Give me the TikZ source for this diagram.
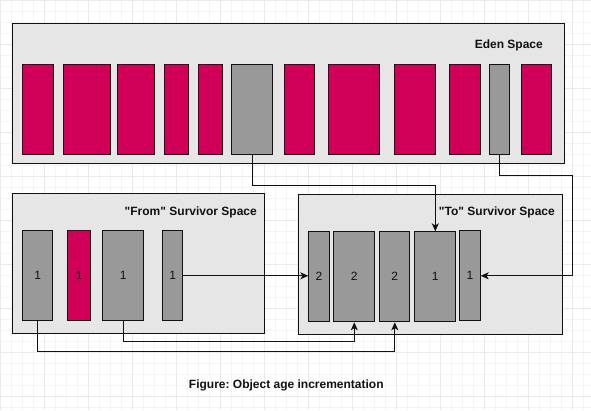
\documentclass[tikz,border=0pt]{standalone}
\usepackage{fontspec}
\setmainfont{Liberation Sans}[Ligatures=TeXOff]
\usetikzlibrary{arrows.meta}
\definecolor{ink}{HTML}{111111}
\definecolor{edenred}{HTML}{D00058}
\definecolor{objgrey}{HTML}{999999}
\definecolor{spacefill}{HTML}{E6E6E6}
\definecolor{gridmin}{HTML}{F4F4F4}
\definecolor{gridmaj}{HTML}{E9E9E9}
\tikzset{
  >={Stealth[length=8pt,width=7pt,inset=2.2pt]},
  space/.style={draw=ink, fill=spacefill, line width=1.1pt, anchor=north west,
    inner sep=0pt, minimum height=140pt},
  obj/.style={draw=ink, line width=1pt, anchor=north west, inner sep=0pt,
    minimum height=90pt, font=\fontsize{12}{14}\selectfont, text=ink},
  live/.style={obj, fill=objgrey},
  dead/.style={obj, fill=edenred},
  title/.style={font=\bfseries\fontsize{12}{14}\selectfont, text=ink, anchor=east, inner sep=0pt},
  arr/.style={->, draw=ink, line width=1pt},
}
\frenchspacing

\begin{document}
\begin{tikzpicture}[x=1pt, y=-1pt]
  \useasboundingbox (0,0) rectangle (591,410);
  % background grid
  \fill[white] (0,0) rectangle (591,410);
  \draw[gridmin, line width=0.6pt] (0pt,-410pt) grid[step=11pt] (591pt,0pt);
  \draw[gridmaj, line width=0.8pt] (0pt,-410pt) grid[step=44pt] (591pt,0pt);
  % the three spaces
  \node[space, minimum width=552pt] (edenbox) at (11.7,23.3) {};
  \node[space, minimum width=252.6pt] (frombox) at (11.7,193.3) {};
  \node[space, minimum width=263.4pt] (tobox) at (298.3,194.3) {};
  \node[title] (edenlbl) at (543,45) {Eden Space};
  \node[title] (fromlbl) at (257,212.7) {"From" Survivor Space};
  \node[title] (tolbl) at (555,212.7) {"To" Survivor Space};
  % eden objects
  \node[dead, minimum width=30.5pt] (e1) at (22.3,63.5) {};
  \node[dead, minimum width=47pt] (e2) at (63.3,63.5) {};
  \node[dead, minimum width=37.3pt] (e3) at (116.5,63.5) {};
  \node[dead, minimum width=23.4pt] (e4) at (164.3,63.5) {};
  \node[dead, minimum width=23.3pt] (e5) at (198.3,63.5) {};
  \node[live, minimum width=41pt] (e6) at (231.4,63.5) {};
  \node[dead, minimum width=30pt] (e7) at (283.5,63.5) {};
  \node[dead, minimum width=50.5pt] (e8) at (328.3,63.5) {};
  \node[dead, minimum width=40.3pt] (e9) at (394.3,63.5) {};
  \node[dead, minimum width=30.5pt] (e10) at (449.3,63.5) {};
  \node[live, minimum width=20pt] (e11) at (488.5,63.5) {};
  \node[dead, minimum width=30pt] (e12) at (520.5,63.5) {};
  % "from" survivor objects
  \node[live, minimum width=30pt] (f1) at (22.3,230.3) {1};
  \node[dead, minimum width=23pt] (f2) at (67.3,230.3) {1};
  \node[live, minimum width=41pt] (f3) at (102.3,230.3) {1};
  \node[live, minimum width=20pt] (f4) at (162.3,230.3) {1};
  % "to" survivor objects
  \node[live, minimum width=20.4pt] (t1) at (308.3,231.3) {2};
  \node[live, minimum width=41pt] (t2) at (333.3,231.3) {2};
  \node[live, minimum width=30pt] (t3) at (379.3,231.3) {2};
  \node[live, minimum width=41pt] (t4) at (414.3,231.3) {1};
  \node[live, minimum width=20.4pt] (t5) at (459.3,230.3) {1};
  % connectors
  \coordinate (hi1) at (0,185.7);
  \coordinate (hi2) at (572.7,175);
  \coordinate (lo1) at (0,341.3);
  \coordinate (lo2) at (0,351.3);
  \draw[arr] (e6.south) -- (e6.south |- hi1) -| (t4.north);
  \draw[arr] (e11.south) |- (hi2) |- (t5.east);
  \draw[arr] (f4.east) -- (f4.east -| t1.west);
  \draw[arr] (f3.south) -- (f3.south |- lo1) -| (t2.south);
  \draw[arr] (f1.south) -- (f1.south |- lo2) -| (t3.south);
  % caption
  \node[font=\bfseries\fontsize{12}{14}\selectfont, text=ink] (caption) at (286.3,385) {Figure: Object age incrementation};
\end{tikzpicture}
\end{document}
